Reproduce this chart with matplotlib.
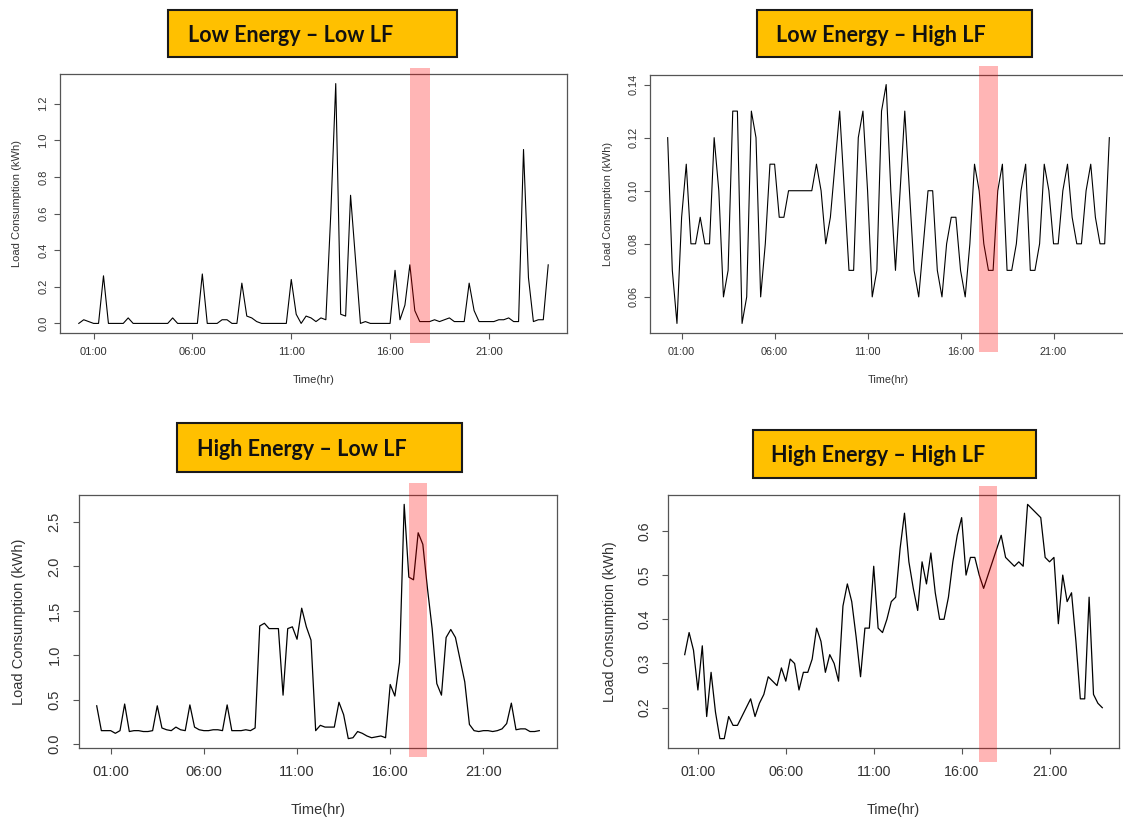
import numpy as np
import matplotlib
matplotlib.use('agg')
import matplotlib.pyplot as plt
from matplotlib.patches import Rectangle
from matplotlib.transforms import blended_transform_factory
from matplotlib.ticker import FormatStrFormatter

W, H = 1123, 818

# 15 minute readings from 00:15 to 24:00
time_hr = np.arange(1, 97) * 0.25
hour_ticks = [1, 6, 11, 16, 21]
hour_labels = ['01:00', '06:00', '11:00', '16:00', '21:00']
peak_start, peak_end = 17.0, 18.0

low_energy_low_lf = [
    0.00, 0.02, 0.01, 0.00, 0.00, 0.26, 0.00, 0.00, 0.00, 0.00, 0.03, 0.00,
    0.00, 0.00, 0.00, 0.00, 0.00, 0.00, 0.00, 0.03, 0.00, 0.00, 0.00, 0.00,
    0.00, 0.27, 0.00, 0.00, 0.00, 0.02, 0.02, 0.00, 0.00, 0.22, 0.04, 0.03,
    0.01, 0.00, 0.00, 0.00, 0.00, 0.00, 0.00, 0.24, 0.05, 0.00, 0.04, 0.03,
    0.01, 0.03, 0.02, 0.60, 1.31, 0.05, 0.04, 0.70, 0.35, 0.00, 0.01, 0.00,
    0.00, 0.00, 0.00, 0.00, 0.29, 0.02, 0.10, 0.32, 0.07, 0.01, 0.01, 0.01,
    0.02, 0.01, 0.02, 0.03, 0.01, 0.01, 0.01, 0.22, 0.07, 0.01, 0.01, 0.01,
    0.01, 0.02, 0.02, 0.03, 0.01, 0.01, 0.95, 0.25, 0.01, 0.02, 0.02, 0.32,
]

low_energy_high_lf = [
    0.12, 0.07, 0.05, 0.09, 0.11, 0.08, 0.08, 0.09, 0.08, 0.08, 0.12, 0.10,
    0.06, 0.07, 0.13, 0.13, 0.05, 0.06, 0.13, 0.12, 0.06, 0.08, 0.11, 0.11,
    0.09, 0.09, 0.10, 0.10, 0.10, 0.10, 0.10, 0.10, 0.11, 0.10, 0.08, 0.09,
    0.11, 0.13, 0.10, 0.07, 0.07, 0.12, 0.13, 0.10, 0.06, 0.07, 0.13, 0.14,
    0.10, 0.07, 0.10, 0.13, 0.10, 0.07, 0.06, 0.08, 0.10, 0.10, 0.07, 0.06,
    0.08, 0.09, 0.09, 0.07, 0.06, 0.08, 0.11, 0.10, 0.08, 0.07, 0.07, 0.10,
    0.11, 0.07, 0.07, 0.08, 0.10, 0.11, 0.07, 0.07, 0.08, 0.11, 0.10, 0.08,
    0.08, 0.10, 0.11, 0.09, 0.08, 0.08, 0.10, 0.11, 0.09, 0.08, 0.08, 0.12,
]

high_energy_low_lf = [
    0.43, 0.15, 0.15, 0.15, 0.12, 0.15, 0.45, 0.14, 0.15, 0.15, 0.14, 0.14,
    0.15, 0.43, 0.18, 0.16, 0.15, 0.19, 0.16, 0.15, 0.44, 0.19, 0.16, 0.15,
    0.15, 0.16, 0.16, 0.15, 0.44, 0.15, 0.15, 0.15, 0.16, 0.15, 0.18, 1.33,
    1.36, 1.30, 1.30, 1.30, 0.55, 1.30, 1.32, 1.18, 1.53, 1.32, 1.17, 0.15,
    0.21, 0.19, 0.19, 0.19, 0.47, 0.33, 0.06, 0.07, 0.14, 0.12, 0.09, 0.07,
    0.08, 0.09, 0.07, 0.67, 0.54, 0.92, 2.70, 1.88, 1.85, 2.38, 2.25, 1.75,
    1.30, 0.68, 0.55, 1.20, 1.29, 1.20, 0.95, 0.70, 0.22, 0.15, 0.14, 0.15,
    0.15, 0.14, 0.15, 0.17, 0.23, 0.46, 0.16, 0.17, 0.17, 0.14, 0.14, 0.15,
]

high_energy_high_lf = [
    0.32, 0.37, 0.33, 0.24, 0.34, 0.18, 0.28, 0.19, 0.13, 0.13, 0.18, 0.16,
    0.16, 0.18, 0.20, 0.22, 0.18, 0.21, 0.23, 0.27, 0.26, 0.25, 0.29, 0.26,
    0.31, 0.30, 0.24, 0.28, 0.28, 0.31, 0.38, 0.35, 0.28, 0.32, 0.30, 0.26,
    0.43, 0.48, 0.44, 0.36, 0.27, 0.38, 0.38, 0.52, 0.38, 0.37, 0.40, 0.44,
    0.45, 0.56, 0.64, 0.53, 0.47, 0.42, 0.53, 0.48, 0.55, 0.46, 0.40, 0.40,
    0.45, 0.53, 0.59, 0.63, 0.50, 0.54, 0.54, 0.50, 0.47, 0.50, 0.53, 0.56,
    0.59, 0.54, 0.53, 0.52, 0.53, 0.52, 0.66, 0.65, 0.64, 0.63, 0.54, 0.53,
    0.54, 0.39, 0.50, 0.44, 0.46, 0.35, 0.22, 0.22, 0.45, 0.23, 0.21, 0.20,
]

titles = ['Low Energy \u2013 Low LF', 'Low Energy \u2013 High LF',
          'High Energy \u2013 Low LF', 'High Energy \u2013 High LF']
series = [low_energy_low_lf, low_energy_high_lf, high_energy_low_lf, high_energy_high_lf]
yticks = [[0.0, 0.2, 0.4, 0.6, 0.8, 1.0, 1.2],
          [0.06, 0.08, 0.10, 0.12, 0.14],
          [0.0, 0.5, 1.0, 1.5, 2.0, 2.5],
          [0.2, 0.3, 0.4, 0.5, 0.6]]
yfmt = ['%.1f', '%.2f', '%.1f', '%.1f']

# layout in pixels of the reference image
layout = [
    dict(box=(60, 74, 567, 333), band=(68, 343), title=(168, 10, 457, 57), tx=188,
         ylab_x=17, xlab_y=380, fs=8, lw=0.8, tick=4, xpad=6, ypad=4.4),
    dict(box=(650, 75, 1127, 333), band=(66, 352), title=(757, 10, 1032, 57), tx=776,
         ylab_x=608, xlab_y=380, fs=7.8, lw=0.8, tick=4, xpad=6, ypad=4.4),
    dict(box=(79, 495, 557, 748), band=(483, 757), title=(177, 423, 462, 472), tx=197,
         ylab_x=19, xlab_y=810, fs=10.5, lw=0.9, tick=4.5, xpad=7.5, ypad=8),
    dict(box=(668, 495, 1119, 748), band=(486, 762), title=(753, 430, 1036, 478), tx=771,
         ylab_x=610, xlab_y=810, fs=10.2, lw=0.9, tick=4.5, xpad=7.5, ypad=7.5),
]

plt.rcParams['font.family'] = ['Liberation Sans', 'DejaVu Sans']
fig = plt.figure(figsize=(W / 100, H / 100), dpi=100)


def r_lim(v):
    lo, hi = min(v), max(v)
    pad = 0.04 * (hi - lo)
    return lo - pad, hi + pad


for values, title, yt, fmt, lay in zip(series, titles, yticks, yfmt, layout):
    l, t, r, b = lay['box']
    ax = fig.add_axes([l / W, 1 - b / H, (r - l) / W, (b - t) / H])
    ax.plot(time_hr, values, color='black', lw=lay['lw'])
    ax.set_xlim(r_lim(time_hr))
    ax.set_ylim(r_lim(values))
    ax.set_xticks(hour_ticks)
    ax.set_xticklabels(hour_labels)
    ax.set_yticks(yt)
    ax.yaxis.set_major_formatter(FormatStrFormatter(fmt))
    for s in ax.spines.values():
        s.set_color('#555555')
        s.set_linewidth(0.9)
    ax.tick_params(axis='both', direction='out', length=lay['tick'], width=0.8,
                   color='#555555', labelsize=lay['fs'], labelcolor='#333333')
    ax.tick_params(axis='x', pad=lay['xpad'])
    ax.tick_params(axis='y', pad=lay['ypad'], labelrotation=90)
    for lab in ax.get_yticklabels():
        lab.set_va('center')
    ax.set_xlabel('Time(hr)', fontsize=lay['fs'], color='#333333', va='center')
    ax.set_ylabel('Load Consumption (kWh)', fontsize=lay['fs'], color='#333333', va='center')
    ax.xaxis.set_label_coords(0.5, -(lay['xlab_y'] - b) / (b - t))
    ax.yaxis.set_label_coords((lay['ylab_x'] - l) / (r - l), 0.5)

    # highlighted peak hour
    y0 = (b - lay['band'][1]) / (b - t)
    y1 = (b - lay['band'][0]) / (b - t)
    trans = blended_transform_factory(ax.transData, ax.transAxes)
    ax.add_patch(Rectangle((peak_start, y0), peak_end - peak_start, y1 - y0,
                           transform=trans, clip_on=False, facecolor='red',
                           alpha=0.29, edgecolor='none', zorder=3))

    # title box
    tl, tt, tr, tb = lay['title']
    fig.add_artist(Rectangle((tl / W, 1 - tb / H), (tr - tl) / W, (tb - tt) / H,
                             transform=fig.transFigure, facecolor='#FFC000',
                             edgecolor='#1a1a1a', lw=1.5))
    fig.text(lay['tx'] / W, 1 - ((tt + tb) / 2 + 2) / H, title, ha='left', va='center',
             fontsize=15.5, fontweight='bold', family=['Lato', 'DejaVu Sans'], color='#111111')

fig.savefig('out.png', dpi=100)
